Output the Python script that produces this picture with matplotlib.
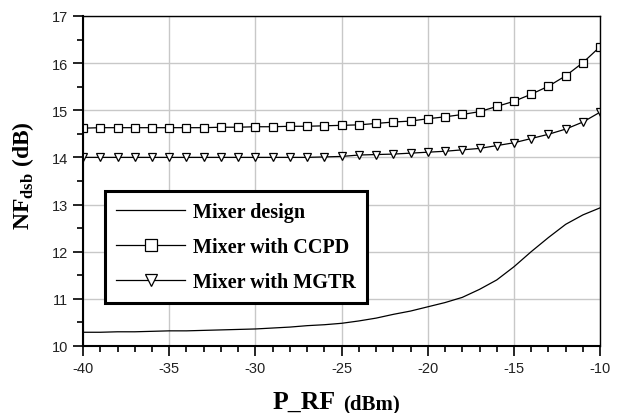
import matplotlib
matplotlib.use("Agg")
import matplotlib.pyplot as plt
from matplotlib.ticker import MultipleLocator

# P_RF sweep (dBm), one point per dBm
p_rf = list(range(-40, -9))

nf_design = [10.29, 10.29, 10.30, 10.30, 10.31, 10.32, 10.32, 10.33, 10.34, 10.35,
             10.36, 10.38, 10.40, 10.43, 10.45, 10.48, 10.53, 10.59, 10.67, 10.74,
             10.83, 10.92, 11.03, 11.20, 11.40, 11.68, 12.00, 12.30, 12.58, 12.78,
             12.93]
nf_ccpd = [14.62, 14.63, 14.63, 14.63, 14.63, 14.63, 14.63, 14.63, 14.64, 14.64,
           14.65, 14.65, 14.66, 14.66, 14.67, 14.68, 14.69, 14.72, 14.75, 14.77,
           14.82, 14.86, 14.91, 14.97, 15.08, 15.19, 15.34, 15.51, 15.73, 16.01,
           16.35]
nf_mgtr = [14.00, 14.00, 14.00, 14.00, 14.00, 14.00, 14.00, 14.00, 14.00, 14.00,
           14.00, 14.00, 14.00, 14.00, 14.01, 14.02, 14.05, 14.06, 14.07, 14.09,
           14.11, 14.13, 14.16, 14.19, 14.25, 14.31, 14.40, 14.49, 14.60, 14.75,
           14.96]

plt.rcParams['mathtext.fontset'] = 'custom'
plt.rcParams['mathtext.bf'] = 'Liberation Serif:bold'
plt.rcParams['mathtext.rm'] = 'Liberation Serif:bold'
plt.rcParams['axes.unicode_minus'] = False

fig = plt.figure(figsize=(6.2, 4.14), dpi=100)
ax = fig.add_axes([0.134, 0.162, 0.834, 0.797])

ax.plot(p_rf, nf_design, color='black', lw=0.9, label='Mixer design')
ax.plot(p_rf, nf_ccpd, color='black', lw=0.9, marker='s', ms=5.5,
        mfc='white', mec='black', mew=0.9, label='Mixer with CCPD')
ax.plot(p_rf, nf_mgtr, color='black', lw=0.9, marker='v', ms=5.5,
        mfc='white', mec='black', mew=0.9, label='Mixer with MGTR')

ax.set_xlim(-40, -10)
ax.set_ylim(10, 17)
ax.xaxis.set_major_locator(MultipleLocator(5))
ax.xaxis.set_minor_locator(MultipleLocator(1))
ax.yaxis.set_major_locator(MultipleLocator(1))
ax.yaxis.set_minor_locator(MultipleLocator(0.5))
ax.grid(True, which='major', color='#c8c8c8', lw=1)
ax.set_axisbelow(True)
ax.tick_params(which='major', direction='out', length=7, width=1.2, labelsize=10.5,
               labelcolor='#222222', pad=4)
ax.tick_params(which='minor', direction='out', length=4, width=1.2)
for lbl in ax.get_xticklabels() + ax.get_yticklabels():
    lbl.set_family('Liberation Sans')

ax.spines['left'].set_linewidth(1.5)
ax.spines['bottom'].set_linewidth(1.5)
ax.spines['top'].set_linewidth(1.0)
ax.spines['right'].set_linewidth(1.0)

leg = ax.legend(loc='upper left', bbox_to_anchor=(0.043, 0.47), frameon=True,
                fancybox=False, edgecolor='black', framealpha=1, markerscale=1.5,
                handlelength=3.4, handletextpad=0.4, labelspacing=0.75, borderpad=0.55,
                borderaxespad=0,
                prop={'family': 'Liberation Serif', 'weight': 'bold', 'size': 14.5})
leg.get_frame().set_linewidth(2.2)

fig.text(0.037, 0.575, r'NF$_{\mathrm{dsb}}$ (dB)', rotation=90, ha='center', va='center',
         fontsize=17, family='Liberation Serif', weight='bold')
fig.text(0.542, 0.012, 'P_RF', ha='right', va='baseline', fontsize=18.5,
         family='Liberation Serif', weight='bold')
fig.text(0.553, 0.012, '(dBm)', ha='left', va='baseline', fontsize=15,
         family='Liberation Serif', weight='bold')

fig.savefig('out.png', dpi=100)
